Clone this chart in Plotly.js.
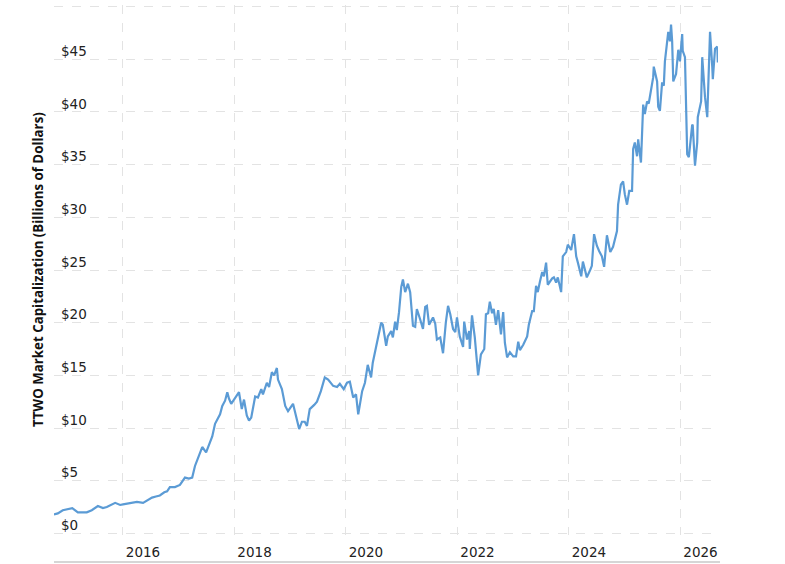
<!DOCTYPE html>
<html>
<head>
<meta charset="utf-8">
<script src="https://cdn.plot.ly/plotly-3.0.1.min.js"></script>
<style>
  html, body { margin: 0; padding: 0; background: #fff; }
  #chart { width: 785px; height: 564px; }
</style>
</head>
<body>
<div id="chart"></div>
<script>
// TTWO market cap.
// Times are decimal years, values are billions of dollars.
const years = [
  2014.76, 2014.83, 2014.92, 2015.01, 2015.09, 2015.19, 2015.28, 2015.35, 2015.44, 2015.55,
  2015.64, 2015.71, 2015.86, 2015.95, 2016.00, 2016.13, 2016.25, 2016.36, 2016.45, 2016.52,
  2016.59, 2016.66, 2016.74, 2016.79, 2016.84, 2016.93, 2017.02, 2017.11, 2017.18, 2017.24,
  2017.29, 2017.36, 2017.42, 2017.49, 2017.54, 2017.60, 2017.65, 2017.70, 2017.74, 2017.78,
  2017.83, 2017.87, 2017.90, 2017.94, 2018.01, 2018.08, 2018.13, 2018.17, 2018.22, 2018.26,
  2018.30, 2018.37, 2018.42, 2018.48, 2018.51, 2018.58, 2018.62, 2018.67, 2018.71, 2018.76,
  2018.78, 2018.85, 2018.91, 2018.96, 2019.05, 2019.10, 2019.16, 2019.21, 2019.26, 2019.30,
  2019.35, 2019.43, 2019.48, 2019.55, 2019.62, 2019.68, 2019.77, 2019.84, 2019.89, 2019.96,
  2020.02, 2020.07, 2020.13, 2020.18, 2020.22, 2020.29, 2020.34, 2020.39, 2020.45, 2020.48,
  2020.54, 2020.57, 2020.63, 2020.66, 2020.72, 2020.75, 2020.81, 2020.84, 2020.88, 2020.91,
  2020.95, 2020.99, 2021.02, 2021.06, 2021.11, 2021.15, 2021.20, 2021.24, 2021.27, 2021.33,
  2021.38, 2021.42, 2021.45, 2021.49, 2021.56, 2021.60, 2021.63, 2021.69, 2021.74, 2021.79,
  2021.83, 2021.87, 2021.92, 2021.96, 2021.99, 2022.04, 2022.10, 2022.12, 2022.17, 2022.21,
  2022.22, 2022.26, 2022.31, 2022.37, 2022.42, 2022.48, 2022.51, 2022.55, 2022.58, 2022.62,
  2022.65, 2022.69, 2022.73, 2022.78, 2022.82, 2022.85, 2022.89, 2022.94, 2023.00, 2023.05,
  2023.09, 2023.12, 2023.18, 2023.25, 2023.28, 2023.34, 2023.37, 2023.41, 2023.44, 2023.48,
  2023.52, 2023.55, 2023.59, 2023.62, 2023.70, 2023.73, 2023.77, 2023.80, 2023.86, 2023.89,
  2023.95, 2023.98, 2024.04, 2024.09, 2024.13, 2024.16, 2024.22, 2024.25, 2024.29, 2024.32,
  2024.38, 2024.41, 2024.45, 2024.50, 2024.54, 2024.59, 2024.63, 2024.68, 2024.74, 2024.79,
  2024.86, 2024.88, 2024.93, 2024.97, 2025.00, 2025.04, 2025.08, 2025.13, 2025.15, 2025.18,
  2025.22, 2025.24, 2025.29, 2025.31, 2025.33, 2025.36, 2025.40, 2025.43, 2025.47, 2025.51,
  2025.52, 2025.58, 2025.60, 2025.63, 2025.67, 2025.70, 2025.72, 2025.76, 2025.78, 2025.81,
  2025.83, 2025.85, 2025.87, 2025.92, 2025.96, 2025.99, 2026.03, 2026.04, 2026.08, 2026.12,
  2026.15, 2026.21, 2026.22, 2026.26, 2026.30, 2026.31, 2026.37, 2026.39, 2026.44, 2026.48,
  2026.51, 2026.53, 2026.57, 2026.58, 2026.62, 2026.66, 2026.67
];

const marketCap = [
  1.8, 1.9, 2.2, 2.3, 2.4, 2.0, 2.0, 2.0, 2.2, 2.6,
  2.4, 2.5, 2.9, 2.7, 2.75, 2.9, 3.0, 2.9, 3.2, 3.4,
  3.5, 3.6, 3.9, 4.0, 4.4, 4.4, 4.6, 5.3, 5.2, 5.3,
  6.4, 7.3, 8.2, 7.7, 8.4, 9.2, 10.4, 10.9, 11.3, 12.1,
  12.6, 13.4, 12.8, 12.3, 12.9, 13.4, 11.8, 12.7, 11.2, 10.7,
  11.0, 13.0, 12.9, 13.7, 13.2, 14.3, 13.9, 15.3, 15.0, 15.7,
  14.6, 13.7, 12.1, 11.6, 12.3, 11.3, 9.9, 10.6, 10.6, 10.2,
  11.8, 12.2, 12.5, 13.5, 14.8, 14.6, 14.0, 13.9, 14.2, 13.7,
  14.3, 14.4, 12.9, 13.2, 11.3, 13.5, 14.3, 16.0, 14.8, 16.2,
  17.7, 18.4, 20.0, 19.8, 17.8, 18.7, 19.2, 18.6, 20.1, 19.3,
  21.0, 23.4, 24.1, 22.9, 23.7, 22.9, 19.7, 19.6, 21.3, 20.3,
  19.4, 21.5, 21.6, 19.8, 20.5, 19.9, 18.4, 18.6, 17.1, 20.0,
  21.6, 20.8, 19.4, 19.1, 20.5, 18.7, 17.7, 20.1, 18.4, 19.2,
  17.5, 20.7, 18.6, 15.0, 17.0, 17.5, 20.8, 20.9, 22.0, 20.9,
  21.3, 19.8, 21.2, 18.9, 21.0, 18.1, 16.7, 17.2, 16.8, 16.8,
  18.2, 17.4, 17.9, 18.7, 19.8, 21.1, 21.1, 23.5, 22.9, 23.9,
  24.8, 24.4, 25.7, 23.6, 24.2, 24.3, 23.8, 24.3, 22.9, 26.3,
  26.7, 27.4, 26.9, 28.4, 26.3, 25.7, 24.4, 25.8, 25.0, 24.3,
  25.0, 25.4, 28.4, 27.3, 26.8, 26.3, 25.3, 28.3, 26.7, 27.2,
  28.7, 31.2, 33.1, 33.4, 32.2, 31.2, 32.5, 32.5, 36.5, 37.1,
  35.8, 37.4, 35.2, 38.4, 40.7, 39.8, 41.0, 40.8, 42.1, 43.3,
  44.3, 42.9, 40.5, 40.1, 42.8, 42.5, 44.8, 46.7, 47.6, 46.7,
  48.3, 46.7, 42.9, 43.6, 45.9, 44.8, 47.4, 45.8, 45.2, 36.0,
  35.7, 38.8, 38.7, 34.9, 37.1, 39.5, 41.0, 45.2, 41.4, 39.5,
  44.5, 47.6, 44.3, 43.1, 46.0, 46.2, 44.7
];

const yTickVals = [0, 5, 10, 15, 20, 25, 30, 35, 40, 45, 50];
const yTickText = ["$0", "$5", "$10", "$15", "$20", "$25", "$30", "$35", "$40", "$45", ""];
const xTickVals = ["2016-01-01", "2018-01-01", "2020-01-01", "2022-01-01", "2024-01-01", "2026-01-01"];
const xTickText = ["2016", "2018", "2020", "2022", "2024", "2026"];
const xRange = [2014.762, 2026.673];
const yTitle = "TTWO Market Capitalization (Billions of Dollars)";

function yearToDate(y) {
  const yr = Math.floor(y);
  const start = Date.UTC(yr, 0, 1);
  const end = Date.UTC(yr + 1, 0, 1);
  return new Date(start + (y - yr) * (end - start)).toISOString().slice(0, 19);
}

const trace = {
  type: "scatter",
  mode: "lines",
  x: years.map(yearToDate),
  y: marketCap,
  line: { color: "#5b9bd5", width: 2.2 },
  hoverinfo: "skip",
};

const tickFont = { family: "DejaVu Sans, Verdana, sans-serif", size: 13.5, color: "#222" };
const gridStyle = { showgrid: true, gridcolor: "#e3e3e3", gridwidth: 1, griddash: "dash" };

const layout = {
  width: 785,
  height: 564,
  // range padded a little so the $0 and top gridlines are not clipped
  margin: { l: 54, r: 67, t: 5, b: 29 },
  paper_bgcolor: "#fff",
  plot_bgcolor: "#fff",
  showlegend: false,
  xaxis: {
    type: "date",
    range: xRange.map(yearToDate),
    tickmode: "array",
    tickvals: xTickVals,
    ticktext: xTickText,
    ticks: "",
    ticklabelshift: 20,
    ticklabelstandoff: 7,
    tickfont: tickFont,
    zeroline: false,
    showline: false,
    ...gridStyle,
  },
  yaxis: {
    range: [-0.15, 50.15],
    tickmode: "array",
    tickvals: yTickVals,
    ticktext: yTickText,
    ticks: "",
    ticklabelposition: "inside",
    ticklabelshift: -8,
    ticklabelstandoff: 4,
    tickfont: tickFont,
    zeroline: false,
    showline: false,
    ...gridStyle,
  },
  // axis title as an annotation so it can sit closer to the edge
  annotations: [
    {
      text: yTitle,
      xref: "paper",
      yref: "paper",
      x: -0.024,
      y: 0.5,
      xanchor: "center",
      yanchor: "middle",
      textangle: -90,
      showarrow: false,
      font: { family: "Open Sans, sans-serif", size: 13.3, color: "#111", weight: "bold" },
    },
  ],
  shapes: [
    {
      type: "line",
      xref: "paper",
      yref: "paper",
      x0: 0,
      x1: 1.003,
      y0: -0.051,
      y1: -0.051,
      line: { color: "#d6d6d6", width: 2 },
    },
  ],
};

Plotly.newPlot("chart", [trace], layout, { staticPlot: true, displayModeBar: false });
</script>
</body>
</html>
